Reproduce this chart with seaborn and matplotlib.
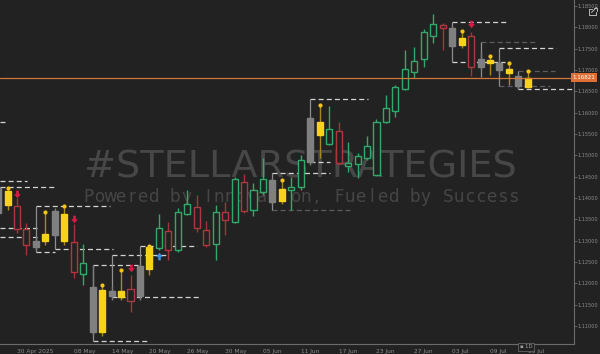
import matplotlib
matplotlib.use("Agg")
import matplotlib.pyplot as plt
import matplotlib.transforms as mtransforms
from matplotlib.path import Path
from matplotlib.lines import Line2D
import numpy as np
import pandas as pd
import seaborn as sns

# ---------------- data ----------------
dates = ["2025-04-28", "2025-04-29", "2025-04-30",
         "2025-05-01", "2025-05-02", "2025-05-05", "2025-05-06", "2025-05-07", "2025-05-08", "2025-05-09",
         "2025-05-12", "2025-05-13", "2025-05-14", "2025-05-15", "2025-05-16", "2025-05-19", "2025-05-20",
         "2025-05-21", "2025-05-22", "2025-05-23", "2025-05-26", "2025-05-27", "2025-05-28", "2025-05-29",
         "2025-05-30",
         "2025-06-02", "2025-06-03", "2025-06-04", "2025-06-05", "2025-06-06", "2025-06-09", "2025-06-10",
         "2025-06-11", "2025-06-12", "2025-06-13", "2025-06-16", "2025-06-17", "2025-06-18", "2025-06-19",
         "2025-06-20", "2025-06-23", "2025-06-24", "2025-06-25", "2025-06-26", "2025-06-27", "2025-06-30",
         "2025-07-01", "2025-07-02", "2025-07-03", "2025-07-04", "2025-07-07", "2025-07-08", "2025-07-09",
         "2025-07-10", "2025-07-11", "2025-07-14", "2025-07-15"]

opens = [1.1365, 1.1416, 1.1381, 1.1327, 1.1285, 1.1299, 1.1313, 1.1363, 1.1297, 1.1222,
         1.1191, 1.1086, 1.1182, 1.1168, 1.1187, 1.1170, 1.1234, 1.1283, 1.1323, 1.1278,
         1.1363, 1.1379, 1.1325, 1.1292, 1.1367, 1.1344, 1.1438, 1.1372, 1.1414, 1.1442,
         1.1393, 1.1419, 1.1426, 1.1484, 1.1578, 1.1527, 1.1557, 1.1475, 1.1480, 1.1494,
         1.1454, 1.1578, 1.1604, 1.1655, 1.1695, 1.1726, 1.1780, 1.1806, 1.1799, 1.1759,
         1.1780, 1.1726, 1.1716, 1.1716, 1.1702, 1.1686, 1.1660]
highs = [1.1428, 1.1424, 1.1400, 1.1341, 1.1311, 1.1367, 1.1377, 1.1381, 1.1339, 1.1292,
         1.1243, 1.1196, 1.1194, 1.1231, 1.1220, 1.1245, 1.1288, 1.1363, 1.1344, 1.1377,
         1.1419, 1.1407, 1.1346, 1.1384, 1.1391, 1.1449, 1.1456, 1.1435, 1.1494, 1.1447,
         1.1442, 1.1449, 1.1501, 1.1592, 1.1618, 1.1616, 1.1578, 1.1531, 1.1506, 1.1545,
         1.1585, 1.1641, 1.1665, 1.1747, 1.1754, 1.1796, 1.1831, 1.1810, 1.1803, 1.1791,
         1.1789, 1.1747, 1.1733, 1.1724, 1.1716, 1.1693, 1.1698]
lows = [1.1360, 1.1372, 1.1318, 1.1266, 1.1278, 1.1290, 1.1308, 1.1290, 1.1213, 1.1196,
        1.1079, 1.1077, 1.1161, 1.1161, 1.1133, 1.1161, 1.1220, 1.1278, 1.1255, 1.1274,
        1.1360, 1.1320, 1.1285, 1.1255, 1.1313, 1.1341, 1.1365, 1.1358, 1.1407, 1.1386,
        1.1386, 1.1372, 1.1419, 1.1477, 1.1494, 1.1524, 1.1477, 1.1461, 1.1447, 1.1489,
        1.1452, 1.1576, 1.1590, 1.1653, 1.1681, 1.1707, 1.1763, 1.1747, 1.1752, 1.1752,
        1.1686, 1.1700, 1.1688, 1.1688, 1.1665, 1.1655, 1.1658]
closes = [1.1424, 1.1384, 1.1327, 1.1290, 1.1299, 1.1316, 1.1370, 1.1299, 1.1227, 1.1248,
          1.1086, 1.1184, 1.1170, 1.1182, 1.1159, 1.1241, 1.1285, 1.1330, 1.1278, 1.1367,
          1.1386, 1.1330, 1.1290, 1.1367, 1.1349, 1.1445, 1.1370, 1.1419, 1.1445, 1.1391,
          1.1421, 1.1426, 1.1489, 1.1588, 1.1548, 1.1562, 1.1482, 1.1482, 1.1499, 1.1522,
          1.1578, 1.1611, 1.1660, 1.1702, 1.1721, 1.1789, 1.1808, 1.1799, 1.1756, 1.1775,
          1.1707, 1.1707, 1.1724, 1.1700, 1.1693, 1.1662, 1.16821]
kinds = ["gray", "yellow", "red", "red", "gray", "yellow", "gray", "yellow", "red", "green",
         "gray", "yellow", "gray", "yellow", "red", "gray", "yellow", "green", "red", "green",
         "green", "red", "red", "green", "red", "green", "red", "green", "green", "gray",
         "yellow", "green", "green", "gray", "yellow", "green", "red", "green", "green", "green",
         "green", "green", "green", "green", "green", "green", "green", "red", "gray", "yellow",
         "red", "gray", "yellow", "gray", "yellow", "gray", "yellow"]

tick_dates = ["2025-04-30", "2025-05-08", "2025-05-14", "2025-05-20", "2025-05-26", "2025-05-30",
              "2025-06-05", "2025-06-11", "2025-06-17", "2025-06-23", "2025-06-27", "2025-07-03",
              "2025-07-09", "2025-07-15"]
tick_labels = ["30 Apr 2025", "08 May", "14 May", "20 May", "26 May", "30 May", "05 Jun",
               "11 Jun", "17 Jun", "23 Jun", "27 Jun", "03 Jul", "09 Jul", "15 Jul"]

ytick_values = [1.110, 1.115, 1.120, 1.125, 1.130, 1.135, 1.140, 1.145,
                1.150, 1.155, 1.160, 1.165, 1.170, 1.175, 1.180, 1.185]
ytick_labels = ["1.11000", "1.11500", "1.12000", "1.12500", "1.13000", "1.13500", "1.14000", "1.14500",
                "1.15000", "1.15500", "1.16000", "1.16500", "1.17000", "1.17500", "1.18000", "1.18500"]

current_price = 1.16821

sell_dates = ["2025-04-30", "2025-05-08", "2025-05-16", "2025-07-07"]
sell_prices = [1.1410, 1.1351, 1.1236, 1.1808]
buy_dates = ["2025-05-21"]
buy_prices = [1.1264]

# zone boxes: start date, top, bottom
box_dates = ["2025-05-02", "2025-05-06", "2025-05-12", "2025-05-14", "2025-05-19",
             "2025-06-06", "2025-06-12", "2025-07-03", "2025-07-08", "2025-07-10", "2025-07-14"]
box_tops = [1.13813, 1.13133, 1.12430, 1.12664, 1.12875, 1.14586, 1.16321, 1.18125, 1.17657, 1.17516, 1.16977]
box_bottoms = [1.12735, 1.12805, 1.10649, 1.11656, 1.11680, 1.13719, 1.14844, 1.17188, 1.16836, 1.16625, 1.16555]

# dashed levels: price, start slot, end slot, bright?
level_prices = [1.15782, 1.14399, 1.14258, 1.13813, 1.13297, 1.13086, 1.12805, 1.12735, 1.12430, 1.12664,
                1.12875, 1.11680, 1.10649, 1.14586, 1.13719, 1.16321, 1.14844, 1.18125, 1.17188, 1.17657,
                1.17516, 1.16625, 1.16977, 1.16555]
level_starts = [0.2, 0.2, 0.2, 4.0, 0.2, 0.2, 6.0, 4.0, 10.0, 12.0,
                15.0, 12.0, 10.0, 29.0, 29.0, 33.0, 33.0, 48.0, 48.0, 51.0,
                53.0, 53.0, 55.0, 55.0]
level_ends = [1.05, 3.06, 6.02, 11.83, 4.11, 4.11, 12.15, 6.0, 14.79, 17.86,
              21.03, 21.3, 15.95, 35.09, 37.2, 39.1, 35.09, 53.9, 53.6, 56.97,
              58.98, 58.34, 58.9, 60.67]
level_bright = [1, 1, 1, 1, 1, 1, 1, 1, 1, 1,
                1, 1, 1, 1, 0, 1, 1, 1, 1, 0,
                1, 0, 0, 1]

# ---------------- style ----------------
BG = "#222222"
sns.set_theme(style="dark", rc={"axes.facecolor": BG, "figure.facecolor": BG,
                                "axes.edgecolor": "#6b6b6b", "axes.grid": False})
plt.rcParams["font.family"] = ["DejaVu Sans"]

FACE = {"green": BG, "red": BG, "gray": "#808080", "yellow": "#f7d21b"}
EDGE = {"green": "#33a86b", "red": "#b0373d", "gray": "#808080", "yellow": "#f7d21b"}
WICK = {"green": "#33a86b", "red": "#a3343a", "gray": "#7a7a7a", "yellow": "#a8871c"}

df = pd.DataFrame({"date": dates, "open": opens, "high": highs, "low": lows,
                   "close": closes, "kind": kinds})
df["pos"] = np.arange(len(df))
pos_of = dict(zip(df["date"], df["pos"]))

fig = plt.figure(figsize=(6.0, 3.54), dpi=100)
ax = fig.add_axes([0, 10 / 354, 574 / 600, 344 / 354])
ax.set_facecolor(BG)

# watermark
ax.text(300 / 600, 1 - 178 / 354, "#STELLARSTRATEGIES", transform=fig.transFigure,
        ha="center", va="baseline", fontsize=27.5, color="#474747", zorder=0.5)
sub = "Powered by Innovation, Fueled by Success"
slot = 10.9
x0 = 82.5
for k, ch in enumerate(sub):
    ax.text((x0 + (k + 0.5) * slot) / 600, 1 - 202 / 354, ch, transform=fig.transFigure,
            ha="center", va="baseline", fontsize=12, color="#464646", zorder=0.5)

# dashed levels
for p, s, e, b in zip(level_prices, level_starts, level_ends, level_bright):
    ax.plot([s, e], [p, p], color="#d4d4d4" if b else "#5c5c5c", lw=0.9,
            linestyle=(0, (4, 2.5)), zorder=1.5, solid_capstyle="butt")

# box verticals
for d, t, b in zip(box_dates, box_tops, box_bottoms):
    ax.vlines(pos_of[d], b, t, color="#8e8e8e", lw=0.9, zorder=1.6)

# wicks
ax.vlines(df["pos"], df["low"], df["high"], colors=[WICK[k] for k in df["kind"]], lw=1.0, zorder=2)

# bodies
body_lo = np.minimum(df["open"], df["close"])
body_h = np.maximum(np.abs(df["close"] - df["open"]), 0.00008)
ax.bar(df["pos"], body_h, bottom=body_lo, width=0.64,
       color=[FACE[k] for k in df["kind"]], edgecolor=[EDGE[k] for k in df["kind"]],
       linewidth=1.0, zorder=3)

# yellow dots on highs
ydf = df[df["kind"] == "yellow"]
sns.scatterplot(x=ydf["pos"], y=ydf["high"], ax=ax, color="#f2c418", s=9,
                linewidth=0, zorder=5, legend=False)

# arrows
down_arrow = Path([(-0.35, 1.0), (0.35, 1.0), (0.35, 0.1), (0.9, 0.1), (0.0, -1.0),
                   (-0.9, 0.1), (-0.35, 0.1), (-0.35, 1.0)],
                  [Path.MOVETO] + [Path.LINETO] * 6 + [Path.CLOSEPOLY])
up_arrow = Path([(-0.35, -1.0), (0.35, -1.0), (0.35, -0.1), (0.9, -0.1), (0.0, 1.0),
                 (-0.9, -0.1), (-0.35, -0.1), (-0.35, -1.0)],
                [Path.MOVETO] + [Path.LINETO] * 6 + [Path.CLOSEPOLY])
sns.scatterplot(x=[pos_of[d] for d in sell_dates], y=sell_prices, ax=ax, marker=down_arrow,
                color="#d81b45", s=30, linewidth=0, zorder=5, legend=False)
sns.scatterplot(x=[pos_of[d] for d in buy_dates], y=buy_prices, ax=ax, marker=up_arrow,
                color="#3a8fe0", s=30, linewidth=0, zorder=5, legend=False)

# current price line + label
ax.axhline(current_price, color="#d2773a", lw=0.9, zorder=4)
trans = mtransforms.blended_transform_factory(ax.transAxes, ax.transData)
ax.text(584 / 574, current_price, f"{current_price:.5f}", transform=trans, ha="center", va="center",
        fontsize=4.0, color="white", zorder=6, clip_on=False,
        bbox=dict(boxstyle="square,pad=0.35", facecolor="#e06f35", edgecolor="none"))

# axes
ax.set_xlim(0.203, 60.88)
ax.set_ylim(1.10578, 1.18641)
ax.set_xticks([pos_of[d] for d in tick_dates])
ax.set_xticklabels(tick_labels, ha="left")
ax.yaxis.tick_right()
ax.set_yticks(ytick_values)
ax.set_yticklabels(ytick_labels)
ax.tick_params(axis="x", length=2, width=0.6, color="#6b6b6b", labelsize=4.2,
               labelcolor="#8c8c8c", pad=1.5, direction="out")
ax.tick_params(axis="y", length=2.0, width=0.6, color="#6b6b6b", labelsize=3.6,
               labelcolor="#8c8c8c", pad=0.8, direction="out")
ax.set_xlabel("")
ax.set_ylabel("")
for side in ["top", "left"]:
    ax.spines[side].set_visible(False)
for side in ["bottom", "right"]:
    ax.spines[side].set_color("#6b6b6b")
    ax.spines[side].set_linewidth(0.8)


# chrome: expand icon (drawn) and timeframe badge
def fx(px):
    return px / 600


def fy(py):
    return 1 - py / 354


icon_col = "#b8b8b8"
fig.add_artist(Line2D([fx(589), fx(589), fx(596), fx(596)], [fy(9), fy(15), fy(15), fy(12)],
                      color=icon_col, lw=0.7))
fig.add_artist(Line2D([fx(589), fx(592)], [fy(9), fy(9)], color=icon_col, lw=0.7))
fig.add_artist(Line2D([fx(591.5), fx(596.5)], [fy(12.5), fy(7.5)], color=icon_col, lw=0.7))
fig.add_artist(Line2D([fx(593.5), fx(596.5), fx(596.5)], [fy(7.5), fy(7.5), fy(10.5)],
                      color=icon_col, lw=0.7))
fig.text(526 / 600, 1 - 347 / 354, "\u25aa 1D", ha="center", va="center", fontsize=3.8, color="#a0a0a0",
         bbox=dict(boxstyle="square,pad=0.3", facecolor=BG, edgecolor="#707070", lw=0.5))

fig.savefig("out.png", dpi=100, facecolor=BG)
